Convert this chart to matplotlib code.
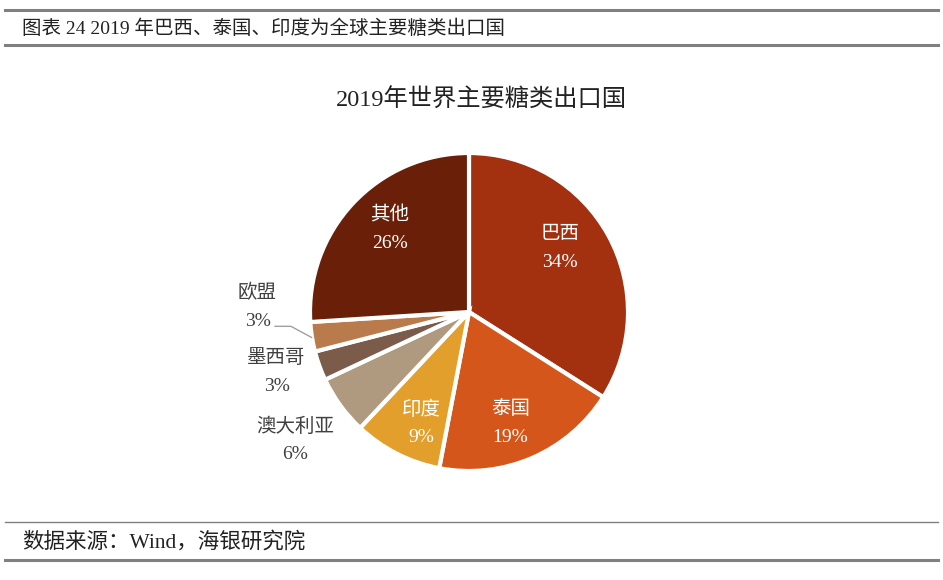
import matplotlib.pyplot as plt
from matplotlib.lines import Line2D

# 2019 world sugar exporters, share (%)
names = ["巴西", "泰国", "印度", "澳大利亚", "墨西哥", "欧盟", "其他"]
shares = [34, 19, 9, 6, 3, 3, 26]
colors = ["#A3300F", "#D5561B", "#E39F2B", "#AF9A7F", "#7B5B4A", "#B97B4B", "#6A1F09"]

fonts = ["Liberation Serif", "Noto Sans CJK SC"]
plt.rcParams["font.family"] = fonts

W, H = 943, 580
fig = plt.figure(figsize=(W / 100, H / 100), dpi=100)

# header / footer rules
def hline(y, lw, x0=5, x1=938, color="#808080"):
    fig.add_artist(Line2D([x0 / W, x1 / W], [1 - y / H, 1 - y / H], lw=lw, color=color))

hline(10, 2.2)
hline(45, 2.2)
hline(522, 1.0)
hline(560, 2.2)
fig.text(22 / W, 1 - 29 / H, "图表 24 2019 年巴西、泰国、印度为全球主要糖类出口国",
         fontsize=14, va="center", ha="left", color="#222222")
fig.text(22 / W, 1 - 542 / H, "数据来源：Wind，海银研究院",
         fontsize=15.5, va="center", ha="left", color="#222222")
fig.text(481 / W, 1 - 100 / H, "2019年世界主要糖类出口国",
         fontsize=17.5, va="center", ha="center", color="#222222")

# pie axes: centre (469, 312) px, radius 159 px
cx, cy, r = 469, 312, 159
ax = fig.add_axes([(cx - r) / W, (H - cy - r) / H, 2 * r / W, 2 * r / H])
wedges, _ = ax.pie(shares, colors=colors, startangle=90, counterclock=False,
                   wedgeprops=dict(edgecolor="white", linewidth=3))
ax.set_xlim(-1, 1)
ax.set_ylim(-1, 1)
ax.set_aspect("equal")
ax.axis("off")

inside = {"巴西": (0.57, 0.40), "泰国": (0.26, -0.70), "印度": (-0.30, -0.70), "其他": (-0.50, 0.52)}
outside = {"澳大利亚": (-1.094, -0.81), "墨西哥": (-1.21, -0.38), "欧盟": (-1.33, 0.03)}

for n, s in zip(names, shares):
    if n in inside:
        x, y = inside[n]
        c = "white"
    else:
        x, y = outside[n]
        c = "#404040"
    ax.text(x, y + 0.088, n, ha="center", va="center", fontsize=14, color=c, clip_on=False)
    ax.text(x, y - 0.088, f"{s}%", ha="center", va="center", fontsize=14, color=c, clip_on=False)

# leader line for 欧盟
ax.plot([-1.22, -1.12, -0.99], [-0.09, -0.09, -0.16], color="#A0A0A0", lw=1, clip_on=False)

fig.savefig("out.png", dpi=100)
